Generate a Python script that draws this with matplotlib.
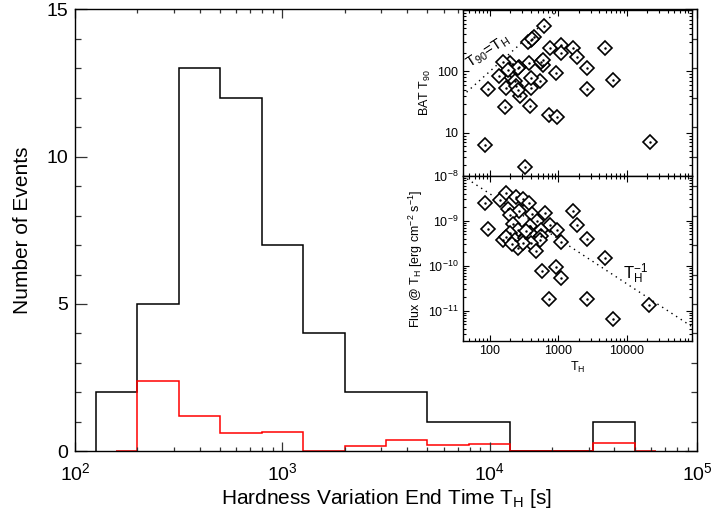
import matplotlib
matplotlib.use("Agg")
import matplotlib.pyplot as plt
import numpy as np
from matplotlib.ticker import LogLocator, FixedLocator, FuncFormatter, NullFormatter, MultipleLocator

plt.rcParams['font.family'] = ['Liberation Sans', 'DejaVu Sans']
plt.rcParams['mathtext.fontset'] = 'custom'
plt.rcParams['mathtext.rm'] = 'Liberation Sans'
plt.rcParams['mathtext.it'] = 'Liberation Sans'
plt.rcParams['mathtext.default'] = 'regular'

# ---------------- data ----------------
# main histogram (bins 0.2 dex wide)
bin_edges = [125.9, 199.5, 316.2, 501.2, 794.3, 1258.9, 1995.3, 3162.3,
             5011.9, 7943.3, 12589.3, 19952.6, 31622.8, 50118.7]
all_counts = [2, 5, 13, 12, 7, 4, 2, 2, 1, 1, 0, 0, 1]
red_edges = [158.5, 199.5, 316.2, 501.2, 794.3, 1258.9, 1995.3, 3162.3,
             5011.9, 7943.3, 12589.3, 19952.6, 31622.8, 50118.7, 63095.7]
red_counts = [0, 2.38, 1.19, 0.62, 0.66, 0, 0.19, 0.38, 0.22, 0.25, 0, 0, 0.27, 0]

# inset 1: BAT T90 vs T_H
t90_th = [622, 440, 394, 363, 753, 1117, 1652, 1889, 1117, 2594, 4797, 6353,
          2594, 21800, 944, 736, 964, 84.5, 325, 166, 384, 94.4, 171, 275,
          407, 538, 407, 376, 265, 196, 156, 219, 196, 232, 245, 259, 259,
          601, 570, 601, 137, 421, 183]
t90 = [557, 369, 326, 299, 245, 271, 245, 175, 203, 113, 245, 73,
       52, 7.2, 94, 19.4, 18, 6.3, 2.8, 26.5, 27, 52, 54, 40,
       54, 71, 78, 137, 120, 137, 140, 100, 83, 69, 57, 49, 113,
       129, 145, 155, 83, 339, 107]

# inset 2: flux at T_H vs T_H
flux_th = [84.5, 140, 171, 240, 301, 372, 185, 268, 196, 421, 637, 492, 771,
           964, 570, 384, 94.4, 219, 259, 196, 156, 175, 232, 325, 384, 570,
           538, 407, 259, 471, 307, 215, 1117, 589, 944, 1117, 736, 1652,
           1889, 2650, 4797, 2594, 6353, 21100, 344]
flux = [2.47e-9, 2.94e-9, 4.13e-9, 3.31e-9, 3.1e-9, 2.47e-9, 1.85e-9, 1.67e-9,
        1.36e-9, 1.4e-9, 1.48e-9, 1.0e-9, 8.1e-10, 6.3e-10, 6.3e-10, 7.5e-10,
        6.6e-10, 8.4e-10, 6.3e-10, 5.3e-10, 3.77e-10, 4.47e-10, 3.8e-10,
        4.1e-10, 5.3e-10, 4.5e-10, 3.8e-10, 3.2e-10, 2.44e-10, 2.14e-10,
        3.2e-10, 3.0e-10, 3.3e-10, 7.7e-11, 9.5e-11, 5.4e-11, 1.87e-11,
        1.61e-9, 8.1e-10, 3.9e-10, 1.46e-10, 1.87e-11, 6.7e-12, 1.33e-11, 6.0e-10]

line_x = [40, 1000]          # T90 = T_H
pow_x = [40, 91000]          # flux ~ T_H^-1
pow_norm = 4e-7

# ---------------- figure ----------------
W, H = 714, 512
fig = plt.figure(figsize=(W / 100, H / 100), dpi=100)

ax = fig.add_axes([75 / W, 1 - 451.3 / H, 622 / W, 442 / H])
ax.stairs(all_counts, bin_edges, baseline=0, color='black', lw=1.1)
ax.stairs(red_counts, red_edges, baseline=None, color='red', lw=1.1)
ax.set_xscale('log')
ax.set_xlim(1e2, 1e5)
ax.set_ylim(0, 15)
ax.yaxis.set_major_locator(MultipleLocator(5))
ax.yaxis.set_minor_locator(MultipleLocator(1))
ax.tick_params(axis='both', which='both', direction='in', top=True, right=True,
               labelsize=14, width=0.9, color='#333333')
ax.tick_params(axis='x', which='major', length=6.5, pad=8)
ax.tick_params(axis='x', which='minor', length=3.2)
ax.tick_params(axis='y', which='major', length=8.6, pad=5)
ax.tick_params(axis='y', which='minor', length=4.3)
for lab in ax.get_yticklabels():
    lab.set_verticalalignment('center_baseline')
for s in ax.spines.values():
    s.set_linewidth(1.0)
ax.set_xlabel('Hardness Variation End Time T$_H$ [s]', fontsize=15, labelpad=2)
ax.set_ylabel('Number of Events', fontsize=15, labelpad=10)

# ---------- insets ----------
ix0, iw = 462.5 / W, 229.8 / W
ax1 = fig.add_axes([ix0, 1 - 175.8 / H, iw, 165.8 / H])
ax2 = fig.add_axes([ix0, 1 - 341.3 / H, iw, 165.5 / H])

mk = dict(marker='D', ms=6.8, mfc='white', mec='black', mew=1.2, ls='none')
ax1.plot(line_x, line_x, ls=(0, (1, 3)), color='black', lw=1.0)
ax1.plot(t90_th, t90, **mk)
ax1.plot(t90_th, t90, marker='.', ms=1.5, color='black', ls='none')
ax1.set_xscale('log')
ax1.set_yscale('log')
ax1.set_xlim(40, 91000)
ax1.set_ylim(2, 1000)
ax1.yaxis.set_major_locator(FixedLocator([10, 100, 1000]))
ax1.yaxis.set_major_formatter(FuncFormatter(lambda v, p: '%d' % v if v < 500 else ''))
ax1.yaxis.set_minor_formatter(NullFormatter())
ax1.xaxis.set_major_formatter(NullFormatter())
ax1.xaxis.set_minor_formatter(NullFormatter())
ax1.set_ylabel('BAT T$_{90}$', fontsize=9, labelpad=3)
ax1.text(96, 205, 'T$_{90}$=T$_H$', rotation=33, fontsize=11, ha='center', va='center')

ax2.plot(pow_x, [pow_norm / v for v in pow_x], ls=(0, (1, 3)), color='black', lw=1.0)
ax2.plot(flux_th, flux, **mk)
ax2.plot(flux_th, flux, marker='.', ms=1.5, color='black', ls='none')
ax2.set_xscale('log')
ax2.set_yscale('log')
ax2.set_xlim(40, 91000)
ax2.set_ylim(2.1e-12, 1e-8)
ax2.yaxis.set_major_locator(FixedLocator([1e-11, 1e-10, 1e-9, 1e-8]))
ax2.yaxis.set_major_formatter(FuncFormatter(lambda v, p: '$10^{%d}$' % round(np.log10(v))))
ax2.yaxis.set_minor_formatter(NullFormatter())
ax2.xaxis.set_major_locator(FixedLocator([100, 1000, 10000]))
ax2.xaxis.set_major_formatter(FuncFormatter(lambda v, p: '%d' % v))
ax2.xaxis.set_minor_formatter(NullFormatter())
ax2.set_xlabel('T$_H$', fontsize=9, labelpad=2)
ax2.set_ylabel('Flux @ T$_H$ [erg cm$^{-2}$ s$^{-1}$]', fontsize=9, labelpad=2)
ax2.text(13500, 6.5e-11, 'T$_H^{-1}$', fontsize=12, ha='center', va='center')

for a in (ax1, ax2):
    a.tick_params(axis='both', which='both', direction='in', top=True, right=True,
                  labelsize=9, width=0.8)
    a.tick_params(which='major', length=4.5, pad=3)
    a.tick_params(which='minor', length=2.2)
    for s in a.spines.values():
        s.set_linewidth(1.0)

fig.savefig('out.png', dpi=100)
